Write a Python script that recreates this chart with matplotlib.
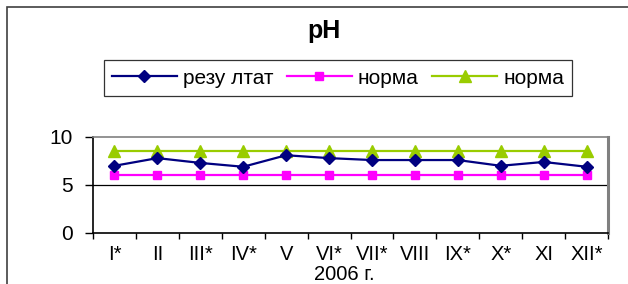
import matplotlib
matplotlib.use("Agg")
import matplotlib.pyplot as plt
from matplotlib.patches import Rectangle

plt.rcParams["font.family"] = ["Liberation Sans", "DejaVu Sans"]

# --- данные ---
months = ["I*", "II", "III*", "IV*", "V", "VI*", "VII*", "VIII", "IX*", "X*", "XI", "XII*"]
result = [7.0, 7.8, 7.3, 6.9, 8.1, 7.8, 7.6, 7.6, 7.6, 7.0, 7.4, 6.9]
norm_low = [6.0] * 12
norm_high = [8.5] * 12
y_ticks = [0, 5, 10]

W, H = 628, 284
fig = plt.figure(figsize=(W / 100, H / 100), dpi=100)

# внешняя рамка диаграммы (уходит за правый и нижний край)
fig.patches.append(Rectangle((7 / W, -0.1), 1.2, 1.1 - 7 / H, transform=fig.transFigure,
                             fill=False, edgecolor="#404040", linewidth=1.2))

ax = fig.add_axes([93 / W, 1 - 233 / H, (608 - 93) / W, (233 - 137) / H])
x = list(range(1, len(months) + 1))

ax.axhline(5, color="black", linewidth=0.9, zorder=1)
ax.plot(x, result, color="#000080", marker="D", markersize=6.5, linewidth=1.6, label="резу лтат", zorder=4)
ax.plot(x, norm_low, color="#FF00FF", marker="s", markersize=6, linewidth=1.6, label="норма", zorder=3)
ax.plot(x, norm_high, color="#99CC00", marker="^", markersize=8, linewidth=1.6, label="норма", zorder=3)

ax.set_xlim(0.5, len(months) + 0.5)
ax.set_ylim(0, 10)
ax.set_yticks(y_ticks)
ax.set_xticks([i + 0.5 for i in range(0, len(months) + 1)])
ax.set_xticklabels([])
ax.set_xticks(x, minor=True)
ax.set_xticklabels(months, minor=True)
ax.tick_params(axis="x", which="major", length=4, width=1, direction="out")
ax.tick_params(axis="x", which="minor", length=0, pad=9, labelsize=14.5)
ax.tick_params(axis="y", length=5.5, width=1, direction="out", pad=9, labelsize=15)

for s in ("left", "bottom"):
    ax.spines[s].set_color("black")
    ax.spines[s].set_linewidth(1.2)
ax.spines["top"].set_color("#808080")
ax.spines["top"].set_linewidth(1.2)
ax.spines["right"].set_color("#808080")
ax.spines["right"].set_linewidth(2.2)

fig.text(324 / W, 1 - 31 / H, "pH", ha="center", va="center", fontsize=18, fontweight="bold")
fig.text(344 / W, 1 - 275 / H, "2006 г.", ha="center", va="center", fontsize=14.5)

leg = fig.legend(loc="center", bbox_to_anchor=(338 / W, 1 - 78 / H), ncol=3, fontsize=15,
                 frameon=True, fancybox=False, edgecolor="black", handlelength=3.1,
                 handletextpad=0.3, columnspacing=0.65, borderpad=0.4)
leg.get_frame().set_linewidth(0.9)

fig.savefig("out.png", dpi=100)
